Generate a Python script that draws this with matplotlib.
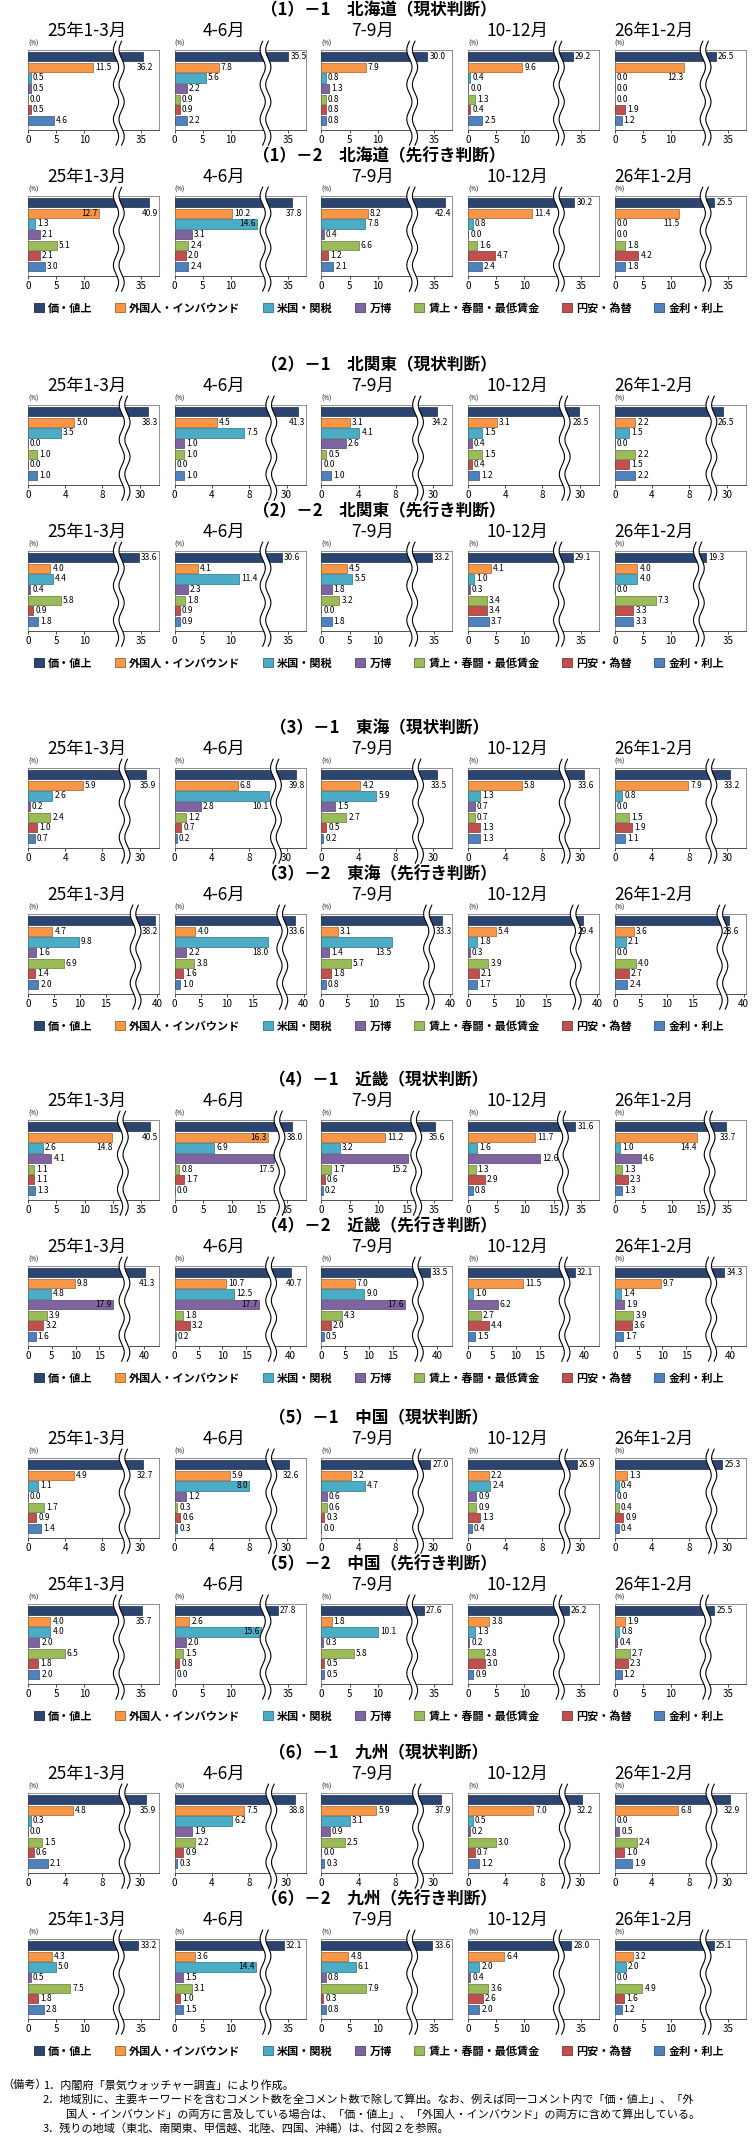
import numpy as np
import matplotlib.pyplot as plt
import matplotlib.colors as mcolors
from matplotlib.patches import Patch, Polygon

plt.rcParams['font.family'] = ['Noto Sans CJK JP', 'DejaVu Sans']

W_PX, H_PX = 752, 2138

categories = ["価・値上", "外国人・インバウンド", "米国・関税", "万博",
              "賃上・春闘・最低賃金", "円安・為替", "金利・利上"]
colors = ["#2B4570", "#F79646", "#4BACC6", "#8064A2", "#9BBB59", "#C0504D", "#4F81BD"]
periods = ["25年1-3月", "4-6月", "7-9月", "10-12月", "26年1-2月"]

# one row per period, values in category order (%)
hokkaido_current = [
    [36.2, 11.5, 0.5, 0.5, 0.0, 0.5, 4.6],
    [35.5, 7.8, 5.6, 2.2, 0.9, 0.9, 2.2],
    [30.0, 7.9, 0.8, 1.3, 0.8, 0.8, 0.8],
    [29.2, 9.6, 0.4, 0.0, 1.3, 0.4, 2.5],
    [26.5, 12.3, 0.0, 0.0, 0.0, 1.9, 1.2],
]
hokkaido_outlook = [
    [40.9, 12.7, 1.3, 2.1, 5.1, 2.1, 3.0],
    [37.8, 10.2, 14.6, 3.1, 2.4, 2.0, 2.4],
    [42.4, 8.2, 7.8, 0.4, 6.6, 1.2, 2.1],
    [30.2, 11.4, 0.8, 0.0, 1.6, 4.7, 2.4],
    [25.5, 11.5, 0.0, 0.0, 1.8, 4.2, 1.8],
]
kitakanto_current = [
    [38.3, 5.0, 3.5, 0.0, 1.0, 0.0, 1.0],
    [41.3, 4.5, 7.5, 1.0, 1.0, 0.0, 1.0],
    [34.2, 3.1, 4.1, 2.6, 0.5, 0.0, 1.0],
    [28.5, 3.1, 1.5, 0.4, 1.5, 0.4, 1.2],
    [26.5, 2.2, 1.5, 0.0, 2.2, 1.5, 2.2],
]
kitakanto_outlook = [
    [33.6, 4.0, 4.4, 0.4, 5.8, 0.9, 1.8],
    [30.6, 4.1, 11.4, 2.3, 1.8, 0.9, 0.9],
    [33.2, 4.5, 5.5, 1.8, 3.2, 0.0, 1.8],
    [29.1, 4.1, 1.0, 0.3, 3.4, 3.4, 3.7],
    [19.3, 4.0, 4.0, 0.0, 7.3, 3.3, 3.3],
]
tokai_current = [
    [35.9, 5.9, 2.6, 0.2, 2.4, 1.0, 0.7],
    [39.8, 6.8, 10.1, 2.8, 1.2, 0.7, 0.2],
    [33.5, 4.2, 5.9, 1.5, 2.7, 0.5, 0.2],
    [33.6, 5.8, 1.3, 0.7, 0.7, 1.3, 1.3],
    [33.2, 7.9, 0.8, 0.0, 1.5, 1.9, 1.1],
]
tokai_outlook = [
    [38.2, 4.7, 9.8, 1.6, 6.9, 1.4, 2.0],
    [33.6, 4.0, 18.0, 2.2, 3.8, 1.6, 1.0],
    [33.3, 3.1, 13.5, 1.4, 5.7, 1.8, 0.8],
    [29.4, 5.4, 1.8, 0.3, 3.9, 2.1, 1.7],
    [28.6, 3.6, 2.1, 0.0, 4.0, 2.7, 2.4],
]
kinki_current = [
    [40.5, 14.8, 2.6, 4.1, 1.1, 1.1, 1.3],
    [38.0, 16.3, 6.9, 17.5, 0.8, 1.7, 0.0],
    [35.6, 11.2, 3.2, 15.2, 1.7, 0.6, 0.2],
    [31.6, 11.7, 1.6, 12.6, 1.3, 2.9, 0.8],
    [33.7, 14.4, 1.0, 4.6, 1.3, 2.3, 1.3],
]
kinki_outlook = [
    [41.3, 9.8, 4.8, 17.9, 3.9, 3.2, 1.6],
    [40.7, 10.7, 12.5, 17.7, 1.8, 3.2, 0.2],
    [33.5, 7.0, 9.0, 17.6, 4.3, 2.0, 0.5],
    [32.1, 11.5, 1.0, 6.2, 2.7, 4.4, 1.5],
    [34.3, 9.7, 1.4, 1.9, 3.9, 3.6, 1.7],
]
chugoku_current = [
    [32.7, 4.9, 1.1, 0.0, 1.7, 0.9, 1.4],
    [32.6, 5.9, 8.0, 1.2, 0.3, 0.6, 0.3],
    [27.0, 3.2, 4.7, 0.6, 0.6, 0.3, 0.0],
    [26.9, 2.2, 2.4, 0.9, 0.9, 1.3, 0.4],
    [25.3, 1.3, 0.4, 0.0, 0.4, 0.9, 0.4],
]
chugoku_outlook = [
    [35.7, 4.0, 4.0, 2.0, 6.5, 1.8, 2.0],
    [27.8, 2.6, 15.6, 2.0, 1.5, 0.8, 0.0],
    [27.6, 1.8, 10.1, 0.3, 5.8, 0.5, 0.5],
    [26.2, 3.8, 1.3, 0.2, 2.8, 3.0, 0.9],
    [25.5, 1.9, 0.8, 0.4, 2.7, 2.3, 1.2],
]
kyushu_current = [
    [35.9, 4.8, 0.3, 0.0, 1.5, 0.6, 2.1],
    [38.8, 7.5, 6.2, 1.9, 2.2, 0.9, 0.3],
    [37.9, 5.9, 3.1, 0.9, 2.5, 0.0, 0.3],
    [32.2, 7.0, 0.5, 0.2, 3.0, 0.7, 1.2],
    [32.9, 6.8, 0.0, 0.5, 2.4, 1.0, 1.9],
]
kyushu_outlook = [
    [33.2, 4.3, 5.0, 0.5, 7.5, 1.8, 2.8],
    [32.1, 3.6, 14.4, 1.5, 3.1, 1.0, 1.5],
    [33.6, 4.8, 6.1, 0.8, 7.9, 0.3, 0.8],
    [28.0, 6.4, 2.0, 0.4, 3.6, 2.6, 2.0],
    [25.1, 3.2, 2.0, 0.0, 4.9, 1.6, 1.2],
]

rows = [
    ("（1）－1　北海道（現状判断）", hokkaido_current, "A"),
    ("（1）－2　北海道（先行き判断）", hokkaido_outlook, "A"),
    ("（2）－1　北関東（現状判断）", kitakanto_current, "B"),
    ("（2）－2　北関東（先行き判断）", kitakanto_outlook, "A"),
    ("（3）－1　東海（現状判断）", tokai_current, "B"),
    ("（3）－2　東海（先行き判断）", tokai_outlook, "C"),
    ("（4）－1　近畿（現状判断）", kinki_current, "E"),
    ("（4）－2　近畿（先行き判断）", kinki_outlook, "D"),
    ("（5）－1　中国（現状判断）", chugoku_current, "B"),
    ("（5）－2　中国（先行き判断）", chugoku_outlook, "A"),
    ("（6）－1　九州（現状判断）", kyushu_current, "B"),
    ("（6）－2　九州（先行き判断）", kyushu_outlook, "A"),
]

notes = [
    "1．内閣府「景気ウォッチャー調査」により作成。",
    "2．地域別に、主要キーワードを含むコメント数を全コメント数で除して算出。なお、例えば同一コメント内で「価・値上」、「外",
    "国人・インバウンド」の両方に言及している場合は、「価・値上」、「外国人・インバウンド」の両方に含めて算出している。",
    "3．残りの地域（東北、南関東、甲信越、北陸、四国、沖縄）は、付図２を参照。",
]

# broken-axis styles: lower segment linear up to b, gap of width g, upper segment slope r
axis_styles = {
    "A": dict(ticks=[0, 5, 10, 35], b=15.2, g=1.9, hi=35, fh=20.1, r=0.25, W=23.3),
    "B": dict(ticks=[0, 4, 8, 30], b=9.8, g=1.2, hi=30, fh=12.05, r=0.105, W=14.1),
    "C": dict(ticks=[0, 5, 10, 15, 40], b=19.5, g=2.4, hi=40, fh=24.8, r=0.25, W=25.2),
    "D": dict(ticks=[0, 5, 10, 15, 40], b=19.0, g=2.5, hi=40, fh=24.3, r=0.23, W=27.5),
    "E": dict(ticks=[0, 5, 10, 15, 35], b=15.7, g=1.9, hi=35, fh=19.8, r=0.28, W=23.0),
}
break_override = {(3, 4): dict(b=13.9, g=2.1), (6, 1): dict(b=17.7, g=1.4), (4, 1): dict(b=10.3)}

label_below = {
    (0, 0, 0), (0, 4, 1),
    (1, 0, 0), (1, 1, 0), (1, 2, 0), (1, 4, 1),
    (2, 0, 0), (2, 1, 0), (2, 2, 0), (2, 3, 0), (2, 4, 0),
    (4, 0, 0), (4, 1, 0), (4, 2, 0), (4, 3, 0), (4, 4, 0), (4, 1, 2),
    (5, 0, 0), (5, 1, 0), (5, 2, 0), (5, 3, 0), (5, 4, 0), (5, 1, 2), (5, 2, 2),
    (6, 0, 0), (6, 1, 0), (6, 2, 0), (6, 4, 0), (6, 0, 1), (6, 1, 3), (6, 2, 3), (6, 4, 1),
    (7, 0, 0), (7, 1, 0),
    (8, 0, 0), (8, 1, 0),
    (9, 0, 0),
    (10, 0, 0), (10, 1, 0), (10, 2, 0), (10, 3, 0), (10, 4, 0),
}
label_inside = {(1, 0, 1), (1, 1, 2), (6, 1, 1), (7, 0, 3), (7, 1, 3), (7, 2, 3),
                (8, 1, 2), (9, 1, 2), (11, 1, 2)}

# layout in pixels
pair_top = [10, 365, 728, 1080, 1418, 1753]
col_left = [28 + 146.7 * j for j in range(5)]
col_w = 131
period_x = [87, 224, 373, 517, 654]
LABEL_FS = 6


def fx(x):
    return x / W_PX


def fy(y):
    return 1 - y / H_PX


def darker(c, f=0.65):
    r, g, b = mcolors.to_rgb(c)
    return (r * f, g * f, b * f)


def break_scale(b, g, hi, fh, r, W, **kw):
    u0 = hi - (fh - b - g) / r
    umax = hi + (W - fh) / r
    xs = np.array([-1000.0, 0.0, b, u0, umax, umax + 1000.0])
    fs = np.array([-1000.0, 0.0, b, b + g, W, W + 1000.0 * r])

    def fwd(v):
        return np.interp(v, xs, fs)

    def inv(f):
        return np.interp(f, fs, xs)

    return fwd, inv, umax


def draw_break(ax, center):
    t = np.linspace(-0.19, 1.11, 200)
    half = 2.8 / col_w
    wob = (2.6 / col_w) * np.sin((t + 0.19) / 1.30 * 3 * 2 * np.pi)
    left = center - half + wob
    right = center + half + wob
    pts = np.column_stack([np.r_[left, right[::-1]], np.r_[t, t[::-1]]])
    ax.add_patch(Polygon(pts, closed=True, transform=ax.transAxes, facecolor="white",
                         edgecolor="none", clip_on=False, zorder=5))
    for line in (left, right):
        ax.plot(line, t, transform=ax.transAxes, color="black", lw=0.8,
                clip_on=False, zorder=6)


row_y = []
for y1 in pair_top:
    row_y += [y1, y1 + 146]

fig = plt.figure(figsize=(W_PX / 100, H_PX / 100), dpi=100)

for k, (title, data, style) in enumerate(rows):
    ty = row_y[k]
    fig.text(fx(379), fy(ty), title, ha="center", va="center", fontsize=12, weight="bold")
    for j in range(5):
        params = dict(axis_styles[style])
        params.update(break_override.get((k, j), {}))
        fwd, inv, umax = break_scale(**params)
        ax = fig.add_axes([fx(col_left[j]), fy(ty + 120), col_w / W_PX, 80 / H_PX])
        ax.set_xscale("function", functions=(fwd, inv))
        vals = data[j]
        ax.barh(np.arange(7), vals, height=0.86, color=colors,
                edgecolor=[darker(c) for c in colors], linewidth=0.5, zorder=3)
        ax.set_xlim(0, umax)
        ax.set_ylim(6.9, -0.63)
        ax.set_xticks(params["ticks"])
        ax.set_xticklabels([str(t) for t in params["ticks"]])
        ax.set_yticks([])
        ax.tick_params(axis="x", labelsize=7, length=2, width=0.5, pad=1.5)
        for sp in ax.spines.values():
            sp.set_color("#7f7f7f")
            sp.set_linewidth(0.6)
        ax.spines["bottom"].set_color("#333333")
        ax.text(0, 1.03, "(%)", transform=ax.transAxes, fontsize=4.5, ha="left", va="bottom")

        W = params["W"]
        for i, v in enumerate(vals):
            s = f"{v:.1f}"
            key = (k, j, i)
            if key in label_inside:
                ax.annotate(s, (v, i), xytext=(-1, 0), textcoords="offset points",
                            ha="right", va="center", fontsize=LABEL_FS, zorder=7)
            elif key in label_below and i == 0:
                xf = min(float(fwd(v)) / W + 0.08, 0.995)
                ax.text(xf, 1, s, transform=ax.get_yaxis_transform(), ha="right",
                        va="center", fontsize=LABEL_FS, zorder=7)
            elif key in label_below:
                ax.annotate(s, (v, i + 1), xytext=(0, 0), textcoords="offset points",
                            ha="right", va="center", fontsize=LABEL_FS, zorder=7)
            else:
                ax.annotate(s, (v, i), xytext=(1.5, 0), textcoords="offset points",
                            ha="left", va="center", fontsize=LABEL_FS, zorder=7)

        draw_break(ax, (params["b"] + params["g"] / 2) / W)
        fig.text(fx(period_x[j]), fy(ty + 21), periods[j], ha="center", va="center",
                 fontsize=12.5)

# legends under each pair of rows
handles = [Patch(facecolor=c, edgecolor=darker(c), linewidth=0.6) for c in colors]
for y1 in pair_top:
    fig.legend(handles, categories, loc="center", bbox_to_anchor=(fx(379), fy(y1 + 298)),
               ncol=7, frameon=False, prop={"size": 8, "weight": "bold"},
               handlelength=0.9, handleheight=0.9, handletextpad=0.4, columnspacing=2.0)

# notes
fig.text(fx(2), fy(2085), "（備考）", ha="left", va="center", fontsize=8)
fig.text(fx(43), fy(2085), notes[0], ha="left", va="center", fontsize=8)
fig.text(fx(43), fy(2100), notes[1], ha="left", va="center", fontsize=8)
fig.text(fx(66), fy(2115), notes[2], ha="left", va="center", fontsize=8)
fig.text(fx(43), fy(2128), notes[3], ha="left", va="center", fontsize=8)

fig.savefig("out.png", dpi=100)
